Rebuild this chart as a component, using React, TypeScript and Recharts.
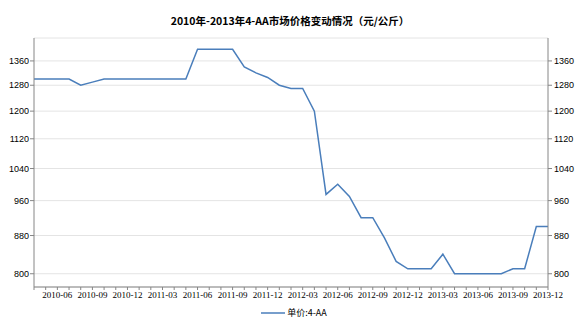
import React from "react";
import { LineChart, Line, XAxis, YAxis, CartesianGrid, Legend } from "recharts";

const months = [
  "2010-04","2010-05","2010-06","2010-07","2010-08","2010-09","2010-10","2010-11","2010-12",
  "2011-01","2011-02","2011-03","2011-04","2011-05","2011-06","2011-07","2011-08","2011-09","2011-10","2011-11","2011-12",
  "2012-01","2012-02","2012-03","2012-04","2012-05","2012-06","2012-07","2012-08","2012-09","2012-10","2012-11","2012-12",
  "2013-01","2013-02","2013-03","2013-04","2013-05","2013-06","2013-07","2013-08","2013-09","2013-10","2013-11","2013-12",
];

const prices = [
  1300, 1300, 1300, 1300, 1280, 1290, 1300, 1300, 1300,
  1300, 1300, 1300, 1300, 1300, 1400, 1400, 1400, 1400, 1340, 1320, 1305,
  1280, 1270, 1270, 1200, 975, 1000, 970, 920, 920, 875, 825, 810,
  810, 810, 840, 800, 800, 800, 800, 800, 810, 810, 900, 900,
];

const tickLabels = [
  "2010-06","2010-09","2010-12","2011-03","2011-06","2011-09","2011-12",
  "2012-03","2012-06","2012-09","2012-12","2013-03","2013-06","2013-09","2013-12",
];

const yTicks = [800, 880, 960, 1040, 1120, 1200, 1280, 1360];

const seriesName = "单价:4-AA";
const title = "2010年-2013年4-AA市场价格变动情况（元/公斤）";

const data = months.map((m, i) => ({ month: m, price: prices[i] }));

const XTick = (props: any) => {
  const { x, y, payload } = props;
  if (!tickLabels.includes(payload.value)) return null;
  return (
    <text x={x} y={y} dy="0.71em" textAnchor="middle" fontSize={9} fontFamily="'Liberation Serif', serif" fill="#000">
      {payload.value}
    </text>
  );
};

const LegendContent = () => (
  <div style={{ display: "flex", justifyContent: "center", alignItems: "center", height: 15 }}>
    <svg width={24} height={6} style={{ marginRight: 2 }}>
      <line x1={0} y1={3} x2={24} y2={3} stroke="#4a7ebb" strokeWidth={1.5} />
    </svg>
    <span style={{ fontSize: 9, fontFamily: "'Noto Sans CJK SC', sans-serif", color: "#000" }}>{seriesName}</span>
  </div>
);

const axisTick = { fontSize: 9, fontFamily: "'Liberation Sans', Arial, sans-serif", fill: "#000" };

export default function App() {
  return (
    <div style={{ position: "absolute", left: 0, top: 0, width: 588, height: 320, background: "#fff" }}>
      <div
        style={{
          position: "absolute",
          left: 0,
          top: 13,
          width: 580,
          textAlign: "center",
          fontSize: 10.5,
          fontWeight: "bold",
          fontFamily: "'Noto Sans CJK SC', sans-serif",
          lineHeight: "15px",
          color: "#000",
        }}
      >
        {title}
      </div>
      <LineChart width={588} height={320} data={data} margin={{ top: 38, right: 0, bottom: 0, left: 0 }}>
        <CartesianGrid horizontal vertical={false} stroke="#e4e4e4" />
        <XAxis
          dataKey="month"
          interval={0}
          tick={<XTick />}
          tickSize={3}
          tickMargin={2}
          height={18}
          stroke="#868686"
          padding={{ left: 0, right: 0 }}
        />
        <YAxis
          type="number"
          scale="log"
          domain={[774, 1440]}
          allowDataOverflow
          ticks={yTicks}
          interval={0}
          width={34}
          tickSize={4}
          tickMargin={1}
          tick={axisTick}
          stroke="#868686"
        />
        <YAxis
          yAxisId="right"
          orientation="right"
          type="number"
          scale="log"
          domain={[774, 1440]}
          allowDataOverflow
          ticks={yTicks}
          interval={0}
          width={40}
          tickSize={4}
          tickMargin={2}
          tick={axisTick}
          stroke="#868686"
        />
        <Legend verticalAlign="bottom" height={15} content={<LegendContent />} />
        <Line
          type="linear"
          dataKey="price"
          name={seriesName}
          stroke="#4a7ebb"
          strokeWidth={1.5}
          dot={false}
          activeDot={false}
          isAnimationActive={false}
        />
        <Line
          yAxisId="right"
          type="linear"
          dataKey="price"
          stroke="none"
          dot={false}
          activeDot={false}
          legendType="none"
          isAnimationActive={false}
        />
      </LineChart>
    </div>
  );
}
